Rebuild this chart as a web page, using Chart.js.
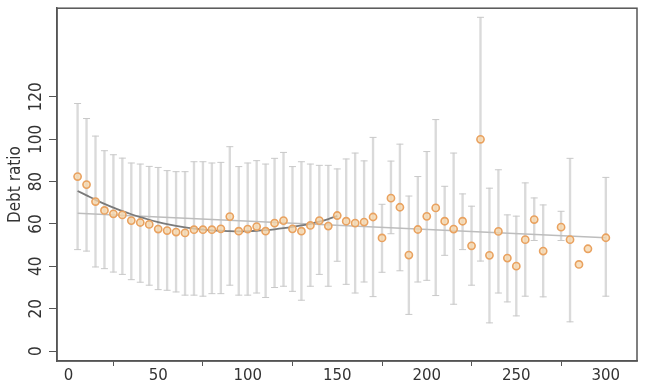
<!DOCTYPE html>
<html>
<head>
<meta charset="utf-8">
<script src="https://cdn.jsdelivr.net/npm/chart.js@4/dist/chart.umd.min.js"></script>
<style>
  body { margin: 0; background: #fff; }
  #wrap { width: 649px; height: 383px; }
</style>
</head>
<body>
<div id="wrap"><canvas id="chart" width="649" height="383"></canvas></div>
<script>
        // Data
        const xVals = [5, 10, 15, 20, 25, 30, 35, 40, 45, 50, 55, 60, 65, 70, 75, 80, 85, 90, 95, 100,
            105, 110, 115, 120, 125, 130, 135, 140, 145, 150, 155, 160, 165, 170, 175, 180, 185, 190, 195, 200,
            205, 210, 215, 220, 225, 230, 235, 240, 245, 250, 255, 260, 265, 275, 280, 285, 290, 300];
        const means = [82.4, 78.6, 70.6, 66.4, 64.8, 64.3, 61.6, 60.7, 59.8, 57.6, 56.9, 56.2, 55.8, 57.3, 57.3, 57.3, 57.7, 63.5, 56.6, 57.6,
            58.8, 56.6, 60.4, 61.6, 57.7, 56.6, 59.3, 61.6, 59.0, 64.0, 61.3, 60.4, 60.9, 63.3, 53.4, 72.2, 67.9, 45.3, 57.4, 63.6,
            67.6, 61.3, 57.6, 61.3, 49.7, 100.0, 45.2, 56.5, 43.9, 40.1, 52.6, 62.1, 47.2, 58.5, 52.6, 40.9, 48.3, 53.5];
        const lows = [47.9, 47.2, 39.7, 38.9, 37.3, 36.2, 33.7, 32.5, 31.1, 29.0, 28.7, 27.9, 26.4, 26.4, 25.9, 27.1, 27.1, 31.1, 26.4, 26.4,
            27.4, 25.3, 30.0, 30.6, 28.2, 24.0, 30.6, 36.2, 30.6, 42.4, 31.5, 27.4, 32.6, 25.7, 37.2, 55.4, 37.9, 17.3, 32.6, 33.4,
            26.2, 45.2, 22.1, 47.9, 31.1, 42.5, 13.3, 27.4, 23.2, 16.6, 25.9, 52.2, 25.6, 52.2, 13.8, null, null, 25.9];
        const highs = [116.9, 109.8, 101.5, 94.6, 92.7, 91.1, 88.8, 88.3, 87.2, 86.7, 85.2, 84.7, 84.7, 89.4, 89.4, 88.8, 89.1, 96.5, 87.1, 88.8,
            89.9, 88.3, 91.0, 93.8, 87.1, 89.4, 88.3, 87.7, 87.7, 86.0, 90.7, 93.5, 89.8, 100.9, 69.3, 89.7, 97.7, 73.2, 82.4, 94.2,
            109.3, 77.8, 93.5, 74.2, 68.4, 157.6, 76.9, 85.6, 64.3, 63.7, 79.4, 72.3, 69.0, 66.0, 91.0, null, null, 82.0];

        // Fitted curve and the linear trend
        const fitX = [5, 10, 15, 20, 25, 30, 35, 40, 45, 50, 55, 60, 65, 70, 75, 80, 85, 90, 95, 100,
            105, 110, 115, 120, 125, 130, 135, 140, 145, 150];
        const fitY = [75.6, 73.5, 71.4, 69.5, 67.7, 66.1, 64.6, 63.2, 62.0, 60.9, 59.9, 59.1, 58.4, 57.8, 57.4, 57.0, 56.8, 56.6, 56.5, 56.6,
            56.8, 57.1, 57.5, 58.0, 58.6, 59.3, 60.1, 61.1, 62.3, 63.8];
        const trendX = [5, 300];
        const trendY = [65.1, 53.5];

        const xTicks = [0, 50, 100, 150, 200, 250, 300];
        const yTicks = [0, 20, 40, 60, 80, 100, 120];

        const barData = [];
        const capHigh = [];
        const capLow = [];
        xVals.forEach((x, i) => {
            if (lows[i] === null) return;
            barData.push({ x: x, y: [lows[i], highs[i]] });
            capHigh.push({ x: x, y: highs[i] });
            capLow.push({ x: x, y: lows[i] });
        });

        // Box round the plot area, like R's bty="o"
        const boxPlugin = {
            id: 'box',
            afterDraw(chart) {
                const { ctx, chartArea: a } = chart;
                ctx.save();
                ctx.strokeStyle = '#555';
                ctx.lineWidth = 1.5;
                ctx.strokeRect(a.left, a.top, a.right - a.left, a.bottom - a.top);
                ctx.restore();
            }
        };

        const narrow = "'Liberation Sans Narrow', 'DejaVu Sans Condensed', sans-serif";

        new Chart(document.getElementById('chart'), {
            type: 'scatter',
            data: {
                datasets: [
                    {
                        type: 'bar',
                        data: barData,
                        backgroundColor: '#dadada',
                        barThickness: 1.7,
                        order: 6
                    },
                    {
                        data: capHigh,
                        pointStyle: 'line',
                        pointRadius: 3.5,
                        borderColor: '#c9c9c9',
                        borderWidth: 1,
                        order: 5
                    },
                    {
                        data: capLow,
                        pointStyle: 'line',
                        pointRadius: 3.5,
                        borderColor: '#c9c9c9',
                        borderWidth: 1,
                        order: 5
                    },
                    {
                        type: 'line',
                        data: trendX.map((x, i) => ({ x: x, y: trendY[i] })),
                        borderColor: '#bdbdbd',
                        borderWidth: 1.5,
                        pointRadius: 0,
                        order: 4
                    },
                    {
                        type: 'line',
                        data: fitX.map((x, i) => ({ x: x, y: fitY[i] })),
                        borderColor: '#7a7a7a',
                        borderWidth: 1.8,
                        pointRadius: 0,
                        tension: 0.3,
                        order: 3
                    },
                    {
                        data: xVals.map((x, i) => ({ x: x, y: means[i] })),
                        pointStyle: 'circle',
                        pointRadius: 3.6,
                        backgroundColor: 'rgba(246, 214, 170, 0.75)',
                        borderColor: '#e9a260',
                        borderWidth: 1.6,
                        order: 1
                    }
                ]
            },
            options: {
                responsive: false,
                devicePixelRatio: 1,
                animation: false,
                layout: { padding: { top: 7, right: 12, left: 0, bottom: 0 } },
                plugins: {
                    legend: { display: false },
                    tooltip: { enabled: false }
                },
                scales: {
                    x: {
                        type: 'linear',
                        min: -6.5,
                        max: 317.4,
                        offset: false,
                        afterBuildTicks: s => { s.ticks = xTicks.map(v => ({ value: v })); },
                        afterFit: s => { s.height = 22; },
                        grid: { drawOnChartArea: false, drawTicks: true, tickLength: 5, color: '#555', lineWidth: 1 },
                        border: { display: true, color: '#555', width: 1.5 },
                        ticks: {
                            autoSkip: false,
                            maxRotation: 0,
                            padding: 1,
                            color: '#333',
                            font: { family: "'DejaVu Sans', sans-serif", size: 15 }
                        }
                    },
                    y: {
                        type: 'linear',
                        min: -4.7,
                        max: 161.9,
                        afterBuildTicks: s => { s.ticks = yTicks.map(v => ({ value: v })); },
                        afterFit: s => { s.width = 57; },
                        grid: { drawOnChartArea: false, drawTicks: true, tickLength: 8, color: '#555', lineWidth: 1 },
                        border: { display: true, color: '#555', width: 1.5 },
                        ticks: {
                            minRotation: 90,
                            maxRotation: 90,
                            crossAlign: 'center',
                            padding: -2,
                            color: '#333',
                            font: { family: narrow, size: 17 }
                        },
                        title: {
                            display: true,
                            text: 'Debt ratio',
                            color: '#333',
                            padding: { top: 5, bottom: 0 },
                            font: { family: narrow, size: 17 }
                        }
                    }
                }
            },
            plugins: [boxPlugin]
        });
</script>
</body>
</html>
